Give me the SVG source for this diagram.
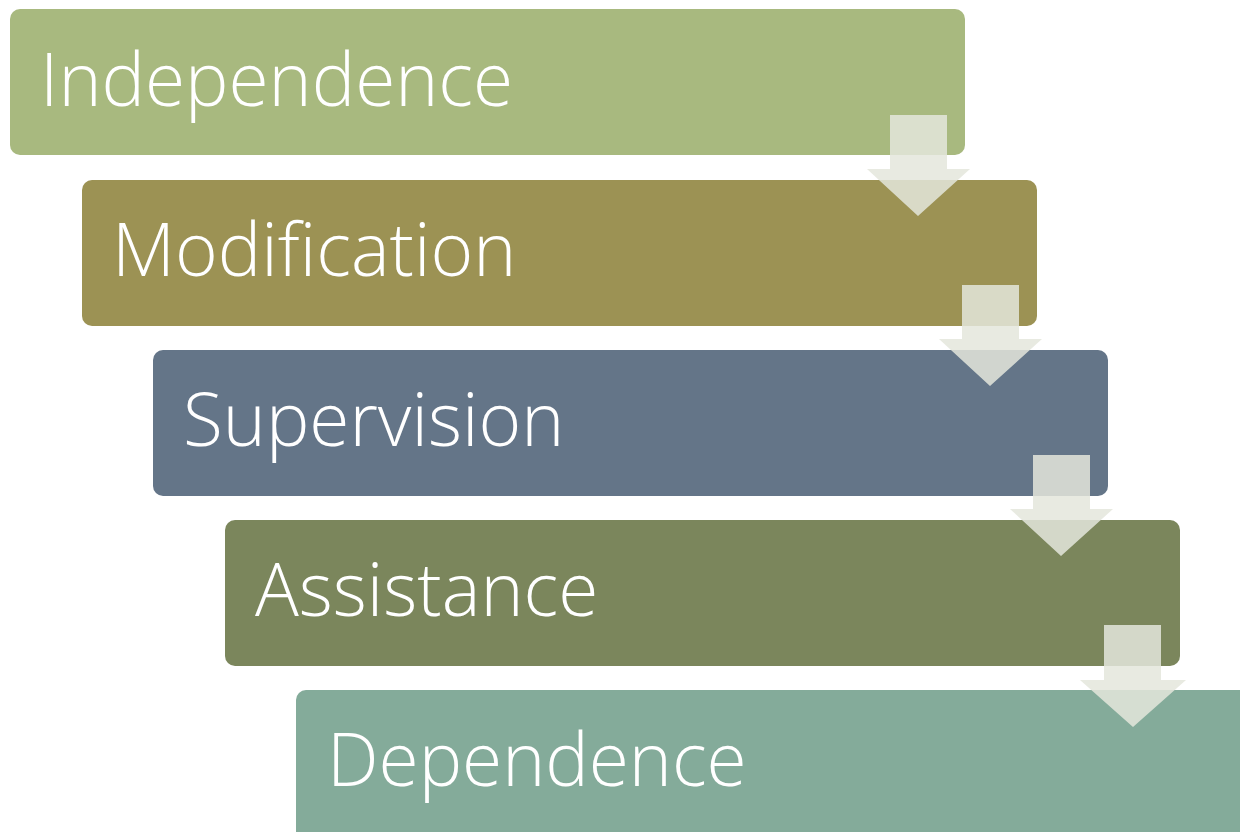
<svg xmlns="http://www.w3.org/2000/svg" width="1240" height="832" viewBox="0 0 1240 832">
  <style>
    .box { stroke: none; }
    .label { font-family: "Open Sans", "Liberation Sans", sans-serif; font-weight: 300; font-size: 73px; fill: #ffffff; }
    .arrow { fill: #E4E6DC; fill-opacity: 0.85; }
  </style>
  <rect width="1240" height="832" fill="#ffffff"/>

  <g id="node-independence">
    <rect class="box" x="10" y="9" width="955" height="146" rx="10" fill="#A8B97F"/>
    <text class="label" x="40" y="106">Independence</text>
  </g>
  <g id="node-modification">
    <rect class="box" x="82" y="180" width="955" height="146" rx="10" fill="#9C9254"/>
    <text class="label" x="112" y="276">Modification</text>
  </g>
  <g id="node-supervision">
    <rect class="box" x="153" y="350" width="955" height="146" rx="10" fill="#647588"/>
    <text class="label" x="183" y="446">Supervision</text>
  </g>
  <g id="node-assistance">
    <rect class="box" x="225" y="520" width="955" height="146" rx="10" fill="#7B865C"/>
    <text class="label" x="255" y="616">Assistance</text>
  </g>
  <g id="node-dependence">
    <rect class="box" x="296" y="690" width="980" height="160" rx="10" fill="#84AB9A"/>
    <text class="label" x="327" y="786">Dependence</text>
  </g>

  <g id="connectors">
    <path class="arrow" d="M890,115 H947 V169 H970 L918,216 L867,169 H890 Z"/>
    <path class="arrow" d="M962,285 H1019 V339 H1042 L990,386 L939,339 H962 Z"/>
    <path class="arrow" d="M1033,455 H1090 V509 H1113 L1061,556 L1010,509 H1033 Z"/>
    <path class="arrow" d="M1104,625 H1161 V680 H1186 L1133,727 L1080,680 H1104 Z"/>
  </g>
</svg>
